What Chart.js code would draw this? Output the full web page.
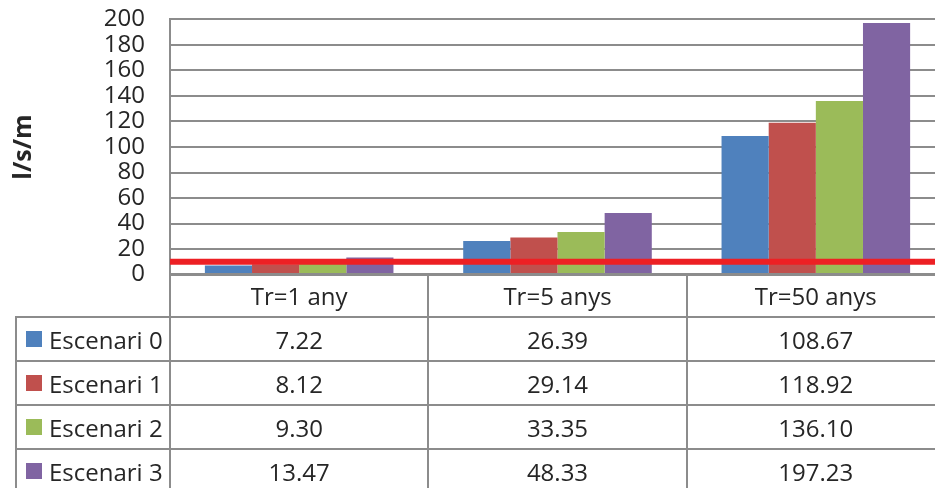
<!DOCTYPE html>
<html>
<head>
<meta charset="utf-8">
<script src="https://cdn.jsdelivr.net/npm/chart.js@4/dist/chart.umd.min.js"></script>
<style>
  html, body { margin: 0; padding: 0; background: #fff; overflow: hidden; width: 935px; height: 488px; }
  #wrap { position: absolute; left: 0; top: 0; width: 945px; height: 488px; overflow: hidden; }
  #c { position: absolute; left: 0; top: 0; }
  .cell { position: absolute; box-sizing: border-box; border: 2px solid #8c8c8c; display: flex; align-items: center; justify-content: center;
          font-family: "Open Sans", sans-serif; font-size: 24px; color: #262626; white-space: nowrap; }
  .leg { justify-content: flex-start; padding-left: 9px; }
  .sw { width: 16px; height: 16px; margin-right: 7px; flex: none; }
</style>
</head>
<body>
<div id="wrap">
  <canvas id="c" width="945" height="334"></canvas>
</div>
<script>
const categories = ['Tr=1 any', 'Tr=5 anys', 'Tr=50 anys'];
const seriesNames = ['Escenari 0', 'Escenari 1', 'Escenari 2', 'Escenari 3'];
const escenari0 = [7.22, 26.39, 108.67];
const escenari1 = [8.12, 29.14, 118.92];
const escenari2 = [9.30, 33.35, 136.10];
const escenari3 = [13.47, 48.33, 197.23];
const seriesColors = ['#4F81BD', '#C0504D', '#9BBB59', '#8064A2'];
const yMin = 0, yMax = 200, yStep = 20;
const threshold = 10;
const yTitle = 'l/s/m';

const seriesValues = [escenari0, escenari1, escenari2, escenari3];

const PLOT_TOP = 19, PLOT_BOTTOM = 274;

const thresholdLine = {
  id: 'thresholdLine',
  afterDatasetsDraw(chart) {
    const { ctx, chartArea, scales } = chart;
    const y = scales.y.getPixelForValue(threshold);
    ctx.save();
    ctx.strokeStyle = '#ED2024';
    ctx.lineWidth = 6;
    ctx.beginPath();
    ctx.moveTo(chartArea.left, y);
    ctx.lineTo(chartArea.right, y);
    ctx.stroke();
    ctx.restore();
  }
};

const canvas = document.getElementById('c');
const chart = new Chart(canvas, {
  type: 'bar',
  data: {
    labels: categories,
    datasets: seriesNames.map((n, i) => ({
      label: n,
      data: seriesValues[i],
      backgroundColor: seriesColors[i],
      categoryPercentage: 0.73,
      barPercentage: 1.0
    }))
  },
  options: {
    responsive: false,
    maintainAspectRatio: false,
    animation: false,
    devicePixelRatio: 1,
    layout: { padding: { top: 0, bottom: 0, left: 0, right: 0 } },
    plugins: { legend: { display: false }, tooltip: { enabled: false } },
    scales: {
      x: { display: false },
      y: {
        min: yMin, max: yMax,
        afterFit(scale) { scale.width = 170; },
        ticks: { stepSize: yStep, padding: 25, color: '#262626', autoSkip: false,
                 font: { family: 'Open Sans', size: 24 } },
        grid: { color: '#8c8c8c', lineWidth: 2, drawTicks: false },
        border: { color: '#8c8c8c', width: 2 },
        title: { display: true, text: yTitle, color: '#262626', padding: { top: 9, bottom: 0 },
                 font: { family: 'Open Sans', size: 25, weight: 'bold' } }
      }
    }
  },
  plugins: [thresholdLine]
});

// fit plot area height to the target by resizing the canvas, then shift it so the plot sits at PLOT_TOP
(function fitArea() {
  let h = canvas.height;
  for (let k = 0; k < 6; k++) {
    const ca = chart.chartArea;
    const diff = (ca.bottom - ca.top) - (PLOT_BOTTOM - PLOT_TOP);
    if (Math.abs(diff) < 0.5) break;
    h = Math.round(h - diff);
    chart.resize(945, h);
  }
  canvas.style.top = (PLOT_TOP - chart.chartArea.top) + 'px';
})();

// data table under the plot, aligned to the category scale
(function buildTable() {
  const wrap = document.getElementById('wrap');
  const ca = chart.chartArea;
  const xs = chart.scales.x;
  const colW = (ca.right - ca.left) / categories.length;
  const headerTop = PLOT_BOTTOM, headerH = 43, rowH = 44;
  const legLeft = 16;
  function cell(x, y, w, h, cls) {
    const d = document.createElement('div');
    d.className = 'cell' + (cls ? ' ' + cls : '');
    d.style.left = (x - 1) + 'px';
    d.style.top = (y - 1) + 'px';
    d.style.width = (w + 2) + 'px';
    d.style.height = (h + 2) + 'px';
    wrap.appendChild(d);
    return d;
  }
  categories.forEach((c, i) => {
    const x0 = xs.getPixelForValue(i) - colW / 2;
    cell(x0, headerTop, colW, headerH).textContent = c;
  });
  seriesNames.forEach((n, r) => {
    const y0 = headerTop + headerH + r * rowH;
    const lc = cell(legLeft, y0, ca.left - legLeft, rowH, 'leg');
    const sw = document.createElement('span');
    sw.className = 'sw';
    sw.style.background = seriesColors[r];
    lc.appendChild(sw);
    lc.appendChild(document.createTextNode(n));
    categories.forEach((c, i) => {
      const x0 = xs.getPixelForValue(i) - colW / 2;
      cell(x0, y0, colW, rowH).textContent = seriesValues[r][i].toFixed(2);
    });
  });
})();
</script>
</body>
</html>
